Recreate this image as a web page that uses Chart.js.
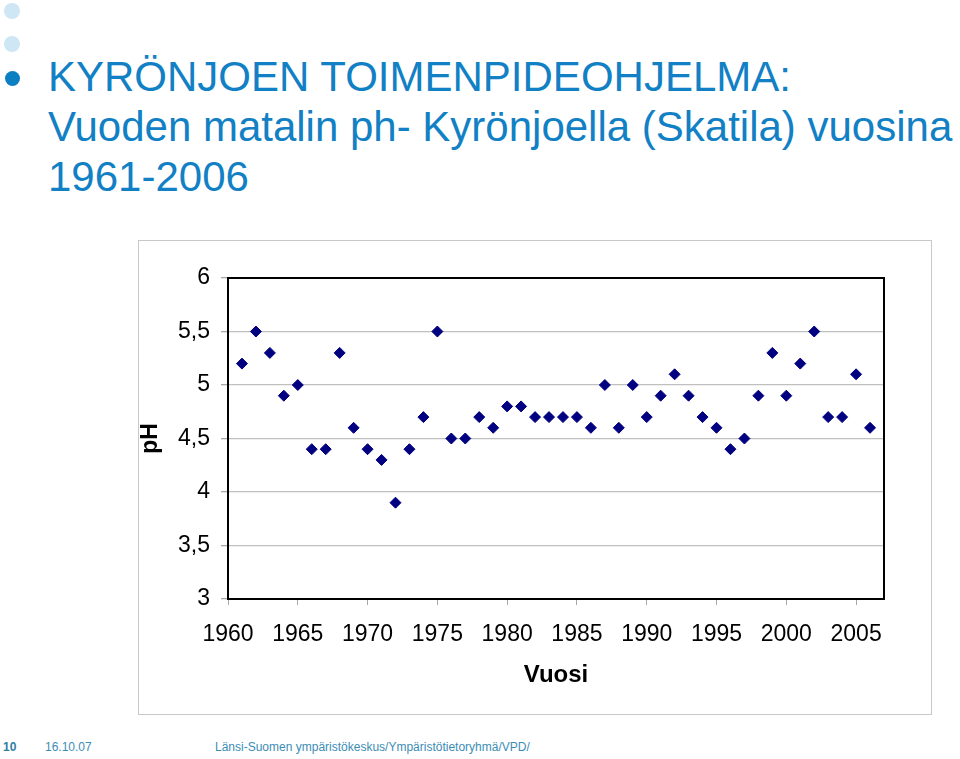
<!DOCTYPE html>
<html>
<head>
<meta charset="utf-8">
<script src="https://cdn.jsdelivr.net/npm/chart.js@4"></script>
<style>
    body { margin: 0; width: 960px; height: 759px; background: #fff; position: relative; overflow: hidden; font-family: "Liberation Sans", Arial, sans-serif; }
    .dot { position: absolute; border-radius: 50%; }
    #title { position: absolute; left: 48px; top: 52px; font-size: 42px; line-height: 50px; color: #1180c4; white-space: nowrap; }
    #chartBox { position: absolute; left: 138px; top: 240px; width: 792px; height: 473px; border: 1px solid #c8c8c8; }
    .foot { position: absolute; top: 740px; font-size: 12px; color: #3c8db4; white-space: nowrap; }
</style>
</head>
<body>
<div class="dot" style="left:4px; top:3px; width:16px; height:16px; background:#cfe6f5;"></div>
<div class="dot" style="left:4px; top:36px; width:16px; height:16px; background:#cfe6f5;"></div>
<div class="dot" style="left:5px; top:71px; width:15px; height:15px; background:#0c7fc3;"></div>
<div id="title">KYRÖNJOEN TOIMENPIDEOHJELMA:<br>Vuoden matalin ph- Kyrönjoella (Skatila) vuosina<br>1961-2006</div>

<div id="chartBox"><canvas id="phChart" width="792" height="473"></canvas></div>

<div class="foot" style="left:3px; font-weight:bold; color:#2f7ea3;">10</div>
<div class="foot" style="left:45px;">16.10.07</div>
<div class="foot" style="left:215px;">Länsi-Suomen ympäristökeskus/Ympäristötietoryhmä/VPD/</div>

<script>
const years = [1961, 1962, 1963, 1964, 1965, 1966, 1967, 1968, 1969, 1970,
    1971, 1972, 1973, 1974, 1975, 1976, 1977, 1978, 1979, 1980,
    1981, 1982, 1983, 1984, 1985, 1986, 1987, 1988, 1989, 1990,
    1991, 1992, 1993, 1994, 1995, 1996, 1997, 1998, 1999, 2000,
    2001, 2002, 2003, 2004, 2005, 2006];
const phValues = [5.2, 5.5, 5.3, 4.9, 5.0, 4.4, 4.4, 5.3, 4.6, 4.4,
    4.3, 3.9, 4.4, 4.7, 5.5, 4.5, 4.5, 4.7, 4.6, 4.8,
    4.8, 4.7, 4.7, 4.7, 4.7, 4.6, 5.0, 4.6, 5.0, 4.7,
    4.9, 5.1, 4.9, 4.7, 4.6, 4.4, 4.5, 4.9, 5.3, 4.9,
    5.2, 5.5, 4.7, 4.7, 5.1, 4.6];
const yearAxis = { min: 1960, max: 2007, step: 5 };
const phAxis = { min: 3, max: 6, step: 0.5 };

const fontFamily = '"Liberation Sans", Arial, sans-serif';

// black frame round the plot area, like the Excel chart
const plotFrame = {
    id: "plotFrame",
    afterDraw(chart) {
        const { ctx, chartArea } = chart;
        ctx.save();
        ctx.strokeStyle = "#000";
        ctx.lineWidth = 2;
        ctx.strokeRect(chartArea.left, chartArea.top, chartArea.right - chartArea.left, chartArea.bottom - chartArea.top);
        ctx.restore();
    }
};

let ctx = document.getElementById("phChart").getContext("2d");
let phChart = new Chart(ctx, {
    type: "scatter",
    data: {
        datasets: [{
            label: "pH",
            data: years.map((y, i) => ({ x: y, y: phValues[i] })),
            pointStyle: "rectRot",
            pointRadius: 5.5,
            borderWidth: 1,
            backgroundColor: "#000080",
            borderColor: "#000080"
        }]
    },
    options: {
        responsive: false,
        animation: false,
        layout: { padding: { top: 37, right: 47, left: 0, bottom: 0 } },
        scales: {
            x: {
                type: "linear",
                min: yearAxis.min,
                max: yearAxis.max,
                afterFit(scale) { scale.height = 115; },
                border: { display: false },
                grid: { drawOnChartArea: false, drawTicks: true, tickLength: 6, tickColor: "#a8a8a8" },
                ticks: {
                    stepSize: yearAxis.step,
                    includeBounds: false,
                    padding: 16,
                    color: "#000",
                    font: { family: fontFamily, size: 23 },
                    callback: v => String(v)
                },
                title: {
                    display: true,
                    text: "Vuosi",
                    color: "#000",
                    font: { family: fontFamily, size: 24, weight: "bold" },
                    padding: { top: 0, bottom: 24 }
                }
            },
            y: {
                min: phAxis.min,
                max: phAxis.max,
                afterFit(scale) { scale.width = 89; },
                border: { display: false },
                grid: { color: "#c0c0c0", lineWidth: 1.3, tickLength: 7, tickColor: "#a8a8a8" },
                ticks: {
                    stepSize: phAxis.step,
                    padding: 11,
                    color: "#000",
                    font: { family: fontFamily, size: 23 },
                    callback: v => String(v).replace(".", ",")
                },
                title: {
                    display: true,
                    text: "pH",
                    color: "#000",
                    font: { family: fontFamily, size: 23, weight: "bold", lineHeight: 1.0 },
                    padding: { top: 0, bottom: 0 }
                }
            }
        },
        plugins: {
            legend: { display: false },
            tooltip: { enabled: false }
        }
    },
    plugins: [plotFrame]
});
</script>
</body>
</html>
